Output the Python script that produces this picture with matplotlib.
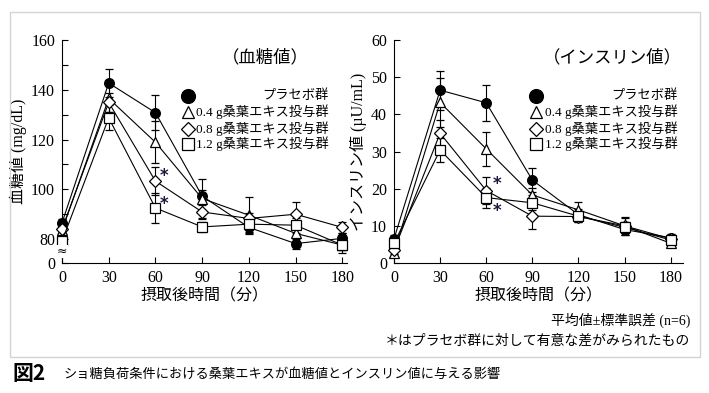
import matplotlib.pyplot as plt
from matplotlib.patches import Rectangle

plt.rcParams['font.family'] = ['Liberation Serif', 'Noto Sans CJK JP', 'DejaVu Sans']

times = [0, 30, 60, 90, 120, 150, 180]

# blood glucose (mg/dL)
glu_placebo = [86.5, 142.7, 130.8, 97.3, 84.7, 78.2, 80.3]
glu_04 = [83.5, 136.5, 118.9, 96.3, 89.6, 82.3, 77.6]
glu_08 = [84.0, 134.9, 103.3, 90.9, 88.3, 90.0, 84.7]
glu_12 = [79.2, 128.7, 92.5, 84.9, 86.0, 85.6, 77.6]
glu_err_placebo = [1.5, 5.5, 7.0, 2.5, 2.5, 2.0, 2.0]
glu_err_04 = [1.5, 5.5, 8.4, 8.0, 7.3, 3.0, 2.0]
glu_err_08 = [1.5, 4.0, 5.6, 3.0, 2.0, 5.0, 2.2]
glu_err_12 = [1.5, 5.0, 6.0, 2.0, 3.0, 3.0, 3.3]

# insulin (uU/mL)
ins_placebo = [6.5, 46.5, 43.1, 22.3, 13.0, 9.0, 6.8]
ins_04 = [2.8, 43.2, 30.7, 18.3, 14.3, 10.0, 5.3]
ins_08 = [3.5, 34.9, 19.5, 12.6, 12.5, 10.0, 6.5]
ins_12 = [5.3, 30.4, 17.6, 16.2, 12.6, 9.6, 6.2]
ins_err_placebo = [1.0, 5.2, 4.8, 3.2, 1.5, 1.5, 1.0]
ins_err_04 = [1.0, 6.5, 4.6, 2.0, 2.2, 2.5, 1.0]
ins_err_08 = [1.0, 3.5, 3.7, 3.5, 1.5, 2.0, 1.0]
ins_err_12 = [1.0, 3.1, 2.7, 2.0, 1.5, 1.5, 1.0]

legend_labels = ['プラセボ群', '0.4 g桑葉エキス投与群', '0.8 g桑葉エキス投与群', '1.2 g桑葉エキス投与群']
markers = ['o', '^', 'D', 's']
faces = ['black', 'white', 'white', 'white']
msizes = [7, 7.5, 6, 7]

fig = plt.figure(figsize=(7.09, 3.93), dpi=100)
fig.patches.append(Rectangle((10 / 709, 1 - 357 / 393), 690 / 709, 345 / 393,
                             transform=fig.transFigure, fill=False,
                             edgecolor='#d4d4d4', lw=1))

ax1 = fig.add_axes([62 / 709, 130 / 393, 285 / 709, 223 / 393])
ax2 = fig.add_axes([394 / 709, 130 / 393, 289 / 709, 223 / 393])


def draw(ax, series, errs):
    for y, e, m, fc, ms in zip(series, errs, markers, faces, msizes):
        ax.errorbar(times, y, yerr=e, color='black', lw=0.8, elinewidth=0.8,
                    capsize=3, capthick=0.8, marker=m, mfc=fc, mec='black',
                    ms=ms, mew=0.9, clip_on=False, zorder=3)
    for s in ['top', 'right']:
        ax.spines[s].set_visible(False)
    ax.set_xticks(times)
    ax.tick_params(direction='in', labelsize=11.5, length=4, width=0.8, pad=5)


draw(ax1, [glu_placebo, glu_04, glu_08, glu_12],
     [glu_err_placebo, glu_err_04, glu_err_08, glu_err_12])
draw(ax2, [ins_placebo, ins_04, ins_08, ins_12],
     [ins_err_placebo, ins_err_04, ins_err_08, ins_err_12])

# left axis with a break between 0 and 80
ax1.set_xlim(0, 183)
ax1.set_ylim(70.4, 160)
ax1.set_yticks([70.4, 80, 100, 120, 140, 160])
ax1.set_yticklabels(['0', '80', '100', '120', '140', '160'])
ax1.set_yticks([90, 110, 130, 150], minor=True)
ax1.tick_params(which='minor', direction='in', length=4, width=0.8)
ax1.text(0, 75, '≈', fontsize=9, ha='center', va='center',
         family='DejaVu Sans', bbox=dict(fc='white', ec='none', pad=0.3),
         clip_on=False, zorder=5)

ax2.set_xlim(0, 188)
ax2.set_ylim(0, 60)
ax2.set_yticks(range(0, 61, 10))

ax1.set_ylabel('血糖値 (mg/dL)', fontsize=11.5, labelpad=3)
ax2.set_ylabel('インスリン値 (µU/mL)', fontsize=11.5, labelpad=3)
ax1.set_xlabel('摂取後時間（分）', fontsize=11.5, labelpad=2)
ax2.set_xlabel('摂取後時間（分）', fontsize=11.5, labelpad=2)

fig.text(265 / 709, 1 - 58 / 393, '（血糖値）', fontsize=12.5, ha='center', va='center')
fig.text(612 / 709, 1 - 58 / 393, '（インスリン値）', fontsize=12.5, ha='center', va='center')

# legends
rows = [96, 112, 129, 144]
for mx, tx in [(188, 329), (536, 678)]:
    for r, lab, m, fc, ms in zip(rows, legend_labels, markers, faces, msizes):
        size = 10 if m == 'o' else ms + 1
        fig.add_artist(plt.Line2D([mx / 709], [1 - r / 393], marker=m, mfc=fc,
                                  mec='black', ms=size, mew=0.9, ls='none',
                                  transform=fig.transFigure))
        fig.text(tx / 709, 1 - r / 393, lab, fontsize=9.5, ha='right', va='center')

# significance marks
for x, y in [(164, 176), (164, 204), (497, 184), (497, 211)]:
    fig.text(x / 709, 1 - y / 393, '*', fontsize=12, ha='center', va='center',
             color='#1a1a40', family='DejaVu Sans', fontweight='bold')

fig.text(690 / 709, 1 - 320 / 393, '平均値±標準誤差 (n=6)', fontsize=10,
         ha='right', va='center')
fig.text(690 / 709, 1 - 341 / 393, '＊はプラセボ群に対して有意な差がみられたもの',
         fontsize=10, ha='right', va='center', family=['Noto Sans CJK JP'])
fig.text(12 / 709, 1 - 373 / 393, '図2', fontsize=15, fontweight='bold',
         ha='left', va='center', family=['Noto Sans CJK JP'])
fig.text(64 / 709, 1 - 374 / 393, 'ショ糖負荷条件における桑葉エキスが血糖値とインスリン値に与える影響',
         fontsize=9.5, ha='left', va='center', family=['Noto Sans CJK JP'])

fig.savefig('out.png', dpi=100)
